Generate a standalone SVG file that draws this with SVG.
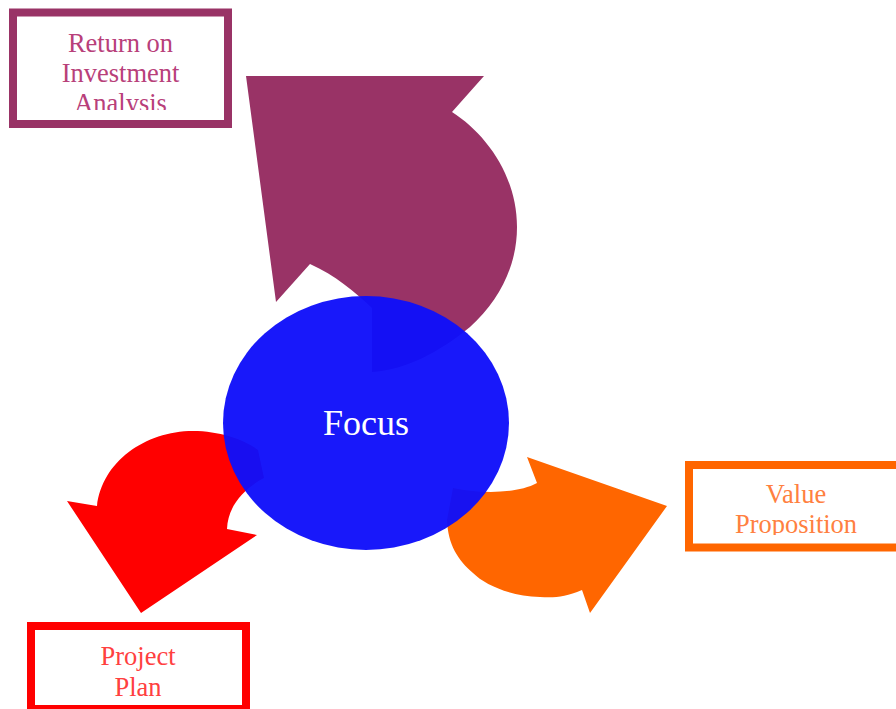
<svg xmlns="http://www.w3.org/2000/svg" width="896" height="709" viewBox="0 0 896 709">
  <style>
    .lbl { font-family: "Liberation Serif", "Times New Roman", serif; font-size: 26.5px; text-anchor: middle; }
    .box { fill: #FFFFFF; stroke-width: 8; }
  </style>
  <defs>
    <clipPath id="clipRoi"><rect x="0" y="0" width="240" height="110"/></clipPath>
    <clipPath id="clipVal"><rect x="680" y="440" width="216" height="95"/></clipPath>
  </defs>
  <rect x="0" y="0" width="896" height="709" fill="#FFFFFF"/>

  <g id="connectors">
    <path id="arrow-roi" fill="#993366" d="M246,76 L484,76 L452,112 C485,133 517,175 517,227 C517,265 500,300 470,327 C440,352 405,370 372,372 L372,308 C355,292 335,275 310,264 L276,302 Z"/>
    <path id="arrow-plan" fill="#FF0000" d="M67,501 L97,506 C102,462 145,431 193,431 C220,431 245,440 258,450 L264,478 C245,488 228,505 227,529 L257,535 L141,613 Z"/>
    <path id="arrow-value" fill="#FF6600" d="M527,457 L667,506 L590,613 L582,590 C565,597 555,598 540,597 C510,596 485,585 473,573 C458,560 448,545 447,520 L453,488 C475,493 515,495 537,483 Z"/>
  </g>

  <g id="focus">
    <ellipse cx="366" cy="423" rx="143" ry="127" fill="#0F0FFA" fill-opacity="0.96"/>
    <text x="366" y="435" font-family="Liberation Serif, Times New Roman, serif" font-size="36" fill="#FFFFFF" text-anchor="middle">Focus</text>
  </g>

  <g id="roi">
    <rect class="box" x="13" y="12.5" width="215" height="111.5" stroke="#993366"/>
    <g clip-path="url(#clipRoi)" fill="#B8407A">
      <text class="lbl" x="120.5" y="52">Return on</text>
      <text class="lbl" x="120.5" y="82">Investment</text>
      <text class="lbl" x="120.5" y="112">Analysis</text>
    </g>
  </g>

  <g id="value">
    <rect class="box" x="689" y="465" width="225" height="82.5" stroke="#FF6600"/>
    <g clip-path="url(#clipVal)" fill="#FF8040">
      <text class="lbl" x="796" y="503">Value</text>
      <text class="lbl" x="796" y="533">Proposition</text>
    </g>
  </g>

  <g id="plan">
    <rect class="box" x="31" y="626" width="215" height="83" stroke="#FF0000"/>
    <g fill="#FF4040">
      <text class="lbl" x="138" y="665">Project</text>
      <text class="lbl" x="138" y="696">Plan</text>
    </g>
  </g>
</svg>
